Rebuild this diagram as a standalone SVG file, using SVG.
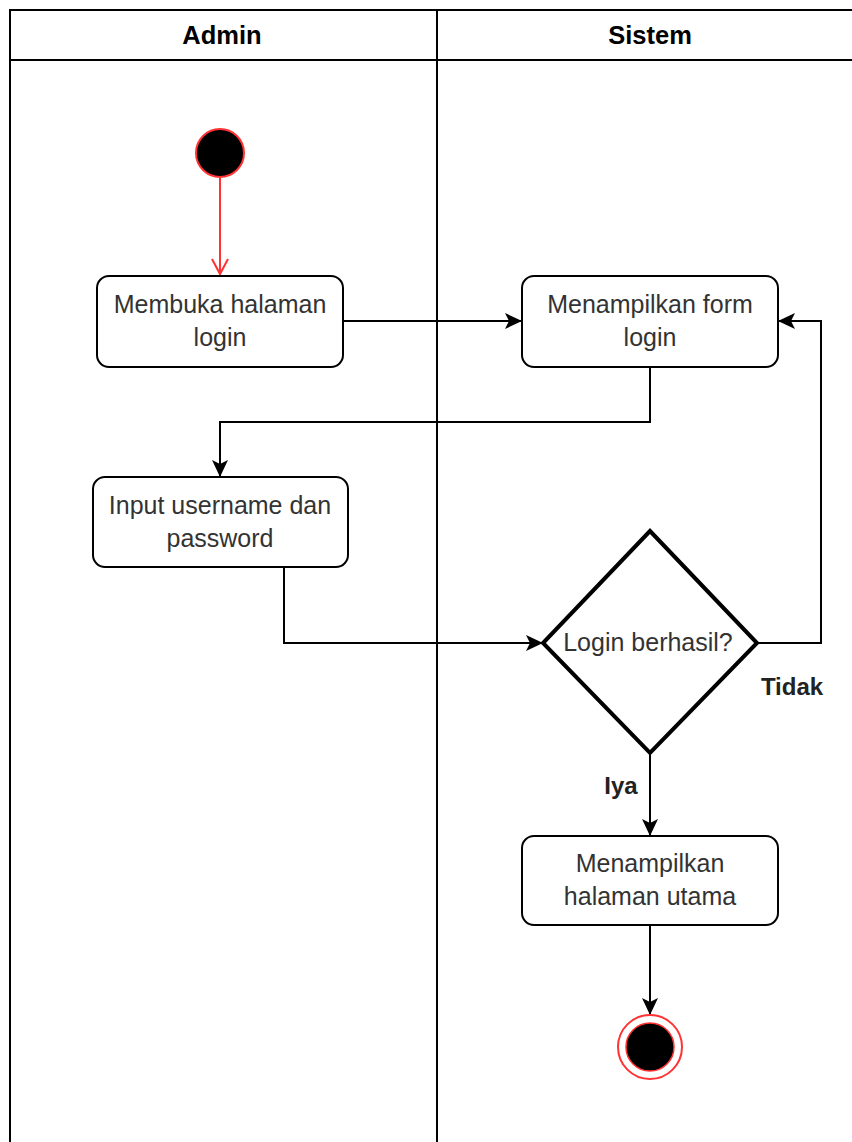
<svg xmlns="http://www.w3.org/2000/svg" width="852" height="1142" viewBox="0 0 852 1142">
<style>
.lane{fill:none;stroke:#000;stroke-width:2}
.box{fill:#fff;stroke:#000;stroke-width:2}
.t{font-family:"Liberation Sans",Arial,sans-serif;font-size:25px;fill:#333;text-anchor:middle}
.h{font-family:"Liberation Sans",Arial,sans-serif;font-size:25.5px;font-weight:bold;fill:#000;text-anchor:middle}
.lbl{font-family:"Liberation Sans",Arial,sans-serif;font-size:24px;font-weight:bold;fill:#222;text-anchor:middle}
.c{fill:none;stroke:#000;stroke-width:2}
</style>
<defs>
<marker id="ar" markerWidth="18" markerHeight="16" refX="16" refY="8" orient="auto" markerUnits="userSpaceOnUse">
<path d="M0,0 L17,8 L0,16 L4,8 z" fill="#000"/>
</marker>
<marker id="ov" markerWidth="20" markerHeight="20" refX="17" refY="10" orient="auto" markerUnits="userSpaceOnUse">
<path d="M2,2 L17,10 L2,18" fill="none" stroke="#ff3333" stroke-width="2"/>
</marker>
</defs>
<rect width="852" height="1142" fill="#fff"/>
<g id="lanes">
<path class="lane" d="M10,1142 V10 H853 M10,60 H853 M437,10 V1142"/>
<text class="h" x="222" y="44">Admin</text>
<text class="h" x="650" y="44">Sistem</text>
</g>
<g id="connectors">
<path d="M220,178 V274" fill="none" stroke="#ff3333" stroke-width="2" marker-end="url(#ov)"/>
<path class="c" d="M343,321 H521" marker-end="url(#ar)"/>
<path class="c" d="M650,367 V422 H220 V476" marker-end="url(#ar)"/>
<path class="c" d="M284,567 V643 H542" marker-end="url(#ar)"/>
<path class="c" d="M757,643 H821 V321 H779" marker-end="url(#ar)"/>
<path class="c" d="M650,753 V835" marker-end="url(#ar)"/>
<path class="c" d="M650,925 V1014" marker-end="url(#ar)"/>
<text class="lbl" x="792" y="695">Tidak</text>
<text class="lbl" x="621" y="794">Iya</text>
</g>
<g id="start">
<circle cx="220" cy="153" r="24" fill="#000" stroke="#ff3333" stroke-width="2"/>
</g>
<g id="n1">
<rect class="box" x="97" y="276" width="246" height="91" rx="12"/>
<text class="t" x="220" y="313">Membuka halaman</text>
<text class="t" x="220" y="346">login</text>
</g>
<g id="n2">
<rect class="box" x="522" y="276" width="256" height="91" rx="12"/>
<text class="t" x="650" y="313">Menampilkan form</text>
<text class="t" x="650" y="346">login</text>
</g>
<g id="n3">
<rect class="box" x="93" y="477" width="255" height="90" rx="12"/>
<text class="t" x="220" y="514">Input username dan</text>
<text class="t" x="220" y="547">password</text>
</g>
<g id="decision">
<path d="M650,531 L757,643 L650,753 L543,643 Z" fill="#fff" stroke="#000" stroke-width="4"/>
<text class="t" x="648" y="651">Login berhasil?</text>
</g>
<g id="n4">
<rect class="box" x="522" y="836" width="256" height="89" rx="12"/>
<text class="t" x="650" y="872">Menampilkan</text>
<text class="t" x="650" y="905">halaman utama</text>
</g>
<g id="end">
<circle cx="650" cy="1047" r="32" fill="#fff" stroke="#ff3333" stroke-width="2"/>
<circle cx="650" cy="1047" r="24" fill="#000" stroke="#ff3333" stroke-width="1.5"/>
</g>
</svg>
